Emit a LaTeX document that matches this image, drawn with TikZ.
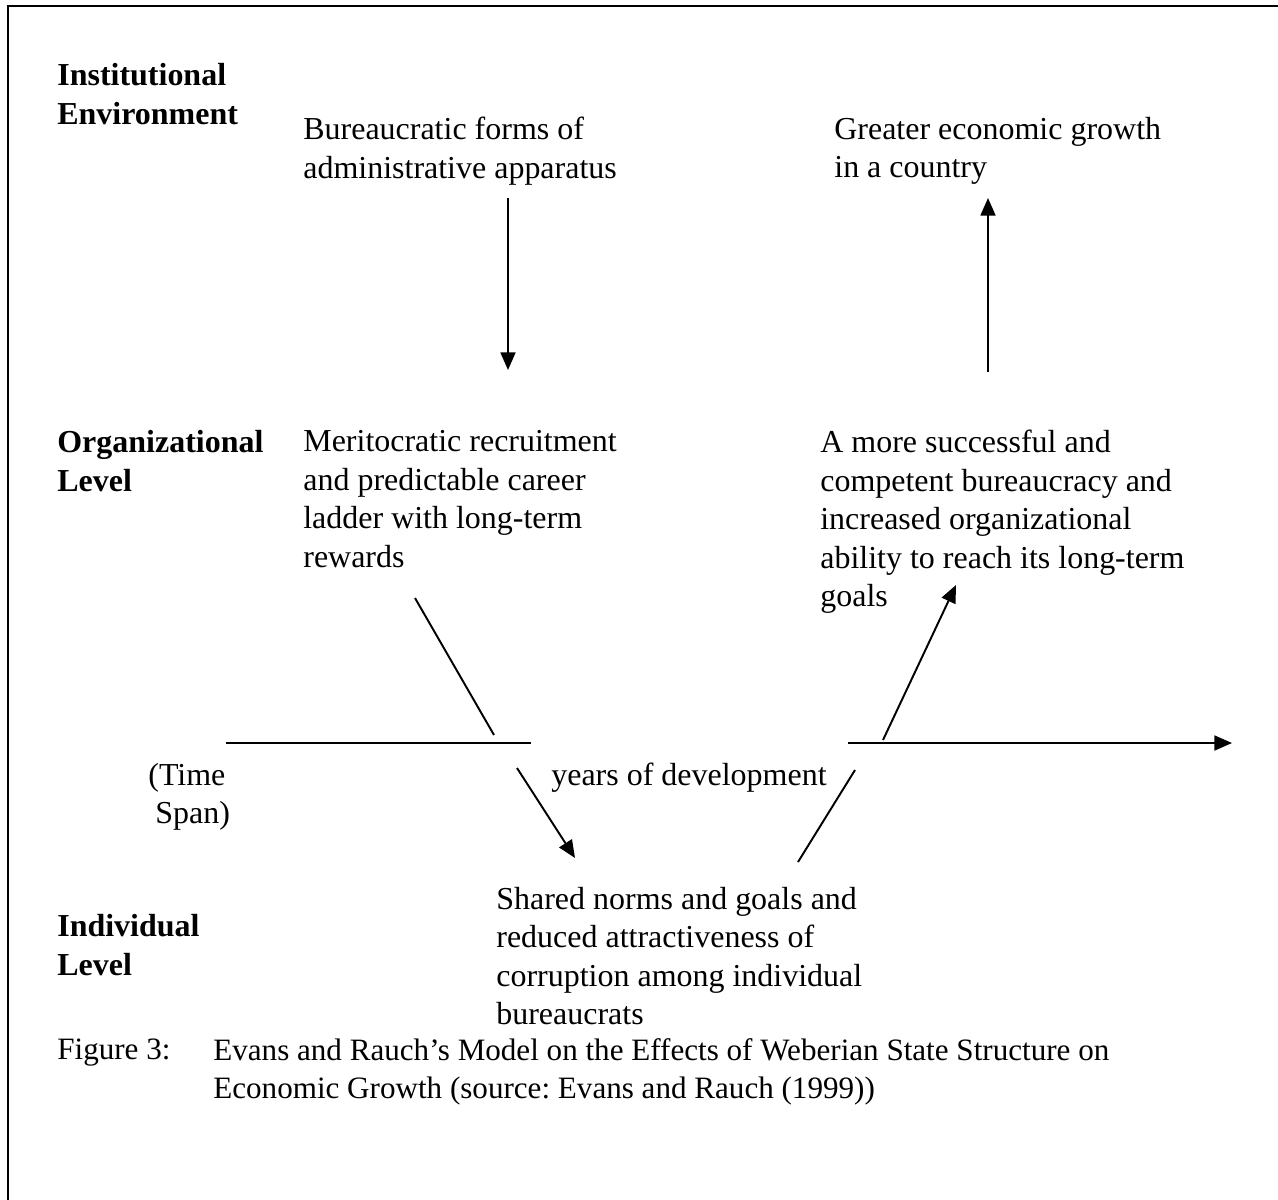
\documentclass[tikz,border=0pt]{standalone}
\usepackage{fontspec}
\setmainfont{Liberation Serif}
\usetikzlibrary{arrows.meta}
\frenchspacing

\begin{document}
\begin{tikzpicture}[x=0.02cm, y=-0.02cm,
    txt/.style={anchor=west, align=left, inner sep=0pt,
      font=\fontsize{18.2}{21.9}\selectfont},
    lvl/.style={txt, font=\fontsize{18.2}{21.9}\selectfont\bfseries},
    captxt/.style={txt, font=\fontsize{17.7}{21.4}\selectfont},
    arr/.style={line width=1.1pt, -{Triangle[length=10pt, width=8.5pt]}},
    ln/.style={line width=1.1pt}]
  \useasboundingbox (0,0) rectangle (1278,1200);

  % frame (only top and left edges show)
  \draw[line width=1.2pt] (8,1200) -- (8,6) -- (1278,6);

  % level labels
  \node[lvl] (inst) at (57,94) {Institutional\\Environment};
  \node[lvl] (org) at (57,461) {Organizational\\Level};
  \node[lvl] (ind) at (57,945) {Individual\\Level};

  % top row
  \node[txt] (bureau) at (303,151) {Bureaucratic forms of\\administrative apparatus};
  \node[txt] (growth) at (834,151) {Greater economic growth\\in a country};

  % middle row
  \node[txt] (merit) at (303,499) {Meritocratic recruitment\\and predictable career\\ladder with long-term\\rewards};
  \node[txt] (compet) at (820,522) {A more successful and\\competent bureaucracy and\\increased organizational\\ability to reach its long-term\\goals};

  % time axis
  \node[txt] (span) at (148,797) {(Time\\\hspace*{4pt}Span)};
  \node[txt] (years) at (551,778) {years of development};

  % bottom row
  \node[txt] (norms) at (496,956) {Shared norms and goals and\\reduced attractiveness of\\corruption among individual\\bureaucrats};

  % caption
  \node[captxt] (fig) at (57,1053) {Figure 3:};
  \node[captxt] (capt) at (213,1072) {Evans and Rauch’s Model on the Effects of Weberian State Structure on\\Economic Growth (source: Evans and Rauch (1999))};

  % arrow ends
  \coordinate (d1) at (508,198);
  \coordinate (d2) at (508,370);
  \coordinate (u1) at (988,372);
  \coordinate (u2) at (988,198);
  \coordinate (m1) at (415,598);
  \coordinate (m2) at (494,735);
  \coordinate (c1) at (883,740);
  \coordinate (c2) at (956,585);
  \coordinate (t1) at (226,743);
  \coordinate (t2) at (531,743);
  \coordinate (t3) at (848,743);
  \coordinate (t4) at (1232,743);
  \coordinate (n1) at (517,768);
  \coordinate (n2) at (575,858);
  \coordinate (s1) at (855,770);
  \coordinate (s2) at (798,862);

  \draw[arr] (d1) -- (d2);
  \draw[arr] (u1) -- (u2);
  \draw[ln] (m1) -- (m2);
  \draw[arr] (c1) -- (c2);
  \draw[ln] (t1) -- (t2);
  \draw[arr] (t3) -- (t4);
  \draw[arr] (n1) -- (n2);
  \draw[ln] (s1) -- (s2);
\end{tikzpicture}
\end{document}
